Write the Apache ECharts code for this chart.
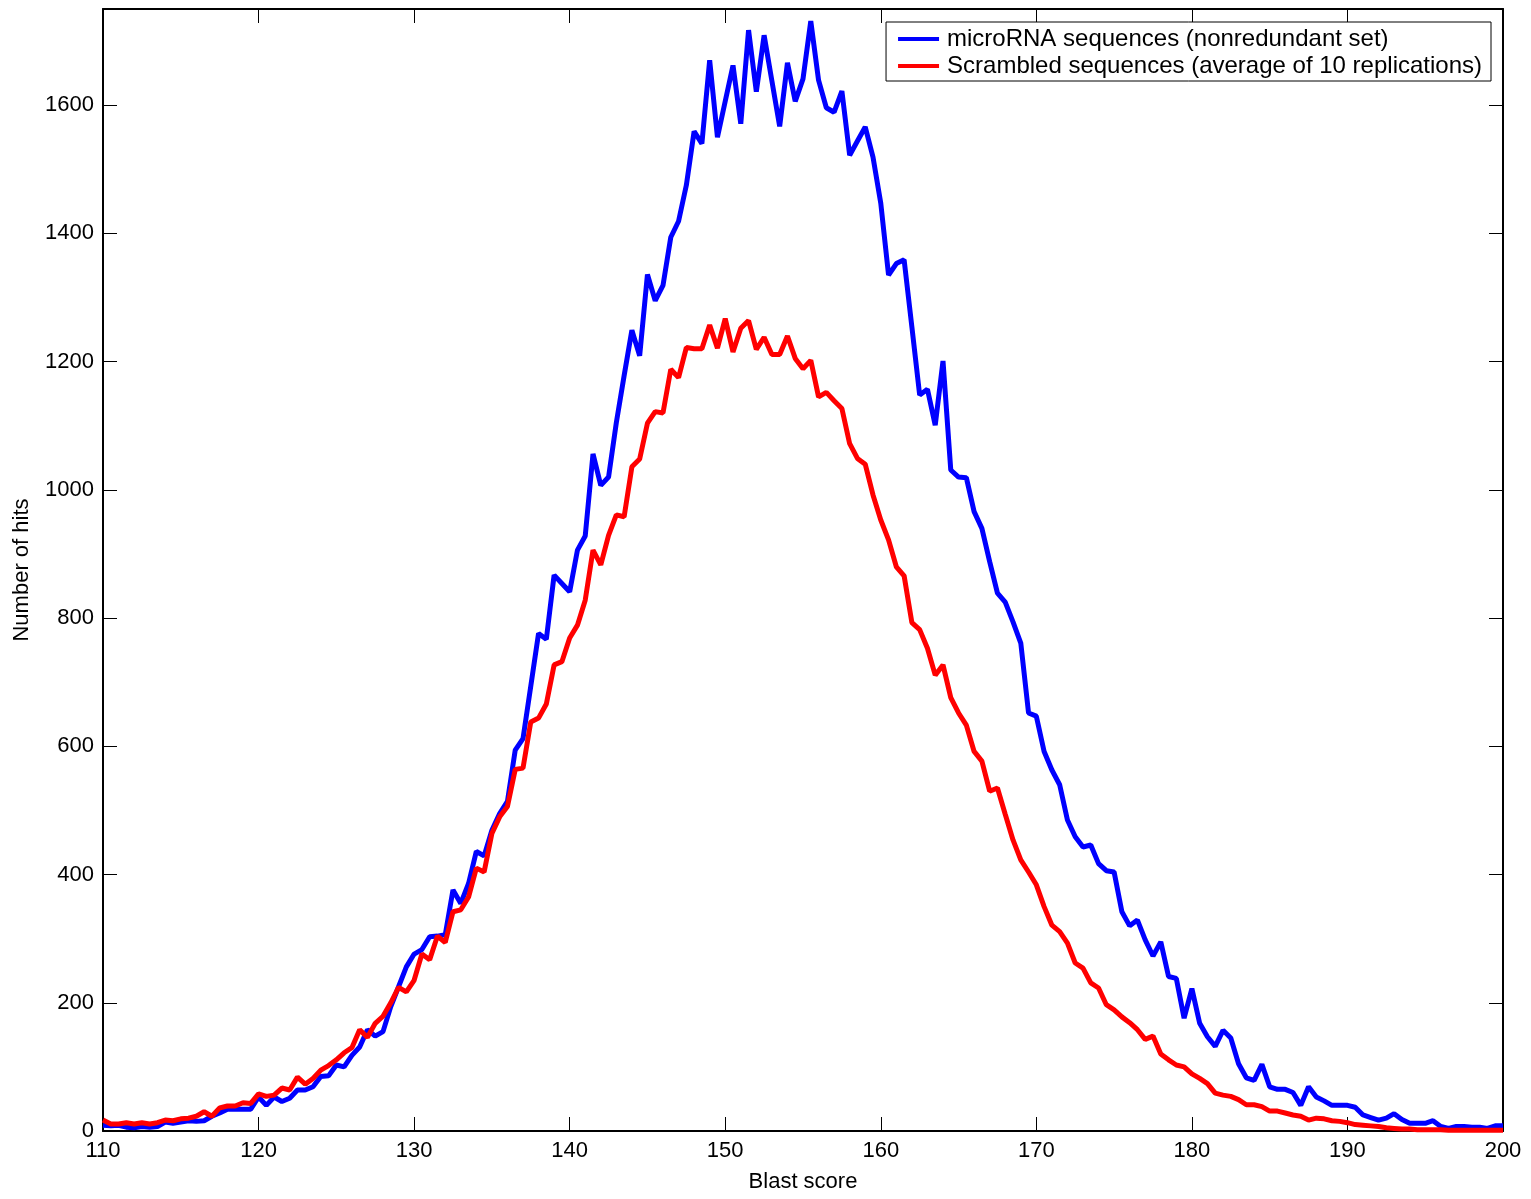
<!DOCTYPE html>
<html>
<head>
<meta charset="utf-8">
<script src="https://cdn.jsdelivr.net/npm/echarts@6/dist/echarts.min.js"></script>
<style>
html,body{margin:0;padding:0;background:#fff;}
#chart{width:1531px;height:1199px;}
</style>
</head>
<body>
<div id="chart"></div>
<script>
const scores = [
110,110.5,111,111.5,112,112.5,113,113.5,114,114.5,
115,115.5,116,116.5,117,117.5,118,118.5,119,119.5,
120,120.5,121,121.5,122,122.5,123,123.5,124,124.5,
125,125.5,126,126.5,127,127.5,128,128.5,129,129.5,
130,130.5,131,131.5,132,132.5,133,133.5,134,134.5,
135,135.5,136,136.5,137,137.5,138,138.5,139,139.5,
140,140.5,141,141.5,142,142.5,143,143.5,144,144.5,
145,145.5,146,146.5,147,147.5,148,148.5,149,149.5,
150,150.5,151,151.5,152,152.5,153,153.5,154,154.5,
155,155.5,156,156.5,157,157.5,158,158.5,159,159.5,
160,160.5,161,161.5,162,162.5,163,163.5,164,164.5,
165,165.5,166,166.5,167,167.5,168,168.5,169,169.5,
170,170.5,171,171.5,172,172.5,173,173.5,174,174.5,
175,175.5,176,176.5,177,177.5,178,178.5,179,179.5,
180,180.5,181,181.5,182,182.5,183,183.5,184,184.5,
185,185.5,186,186.5,187,187.5,188,188.5,189,189.5,
190,190.5,191,191.5,192,192.5,193,193.5,194,194.5,
195,195.5,196,196.5,197,197.5,198,198.5,199,199.5,
200];

const microRNA = [
9,8,9,6,5,7,6,7,14,12,
14,16,15,16,23,28,34,34,34,34,
53,40,53,46,51,64,64,69,85,86,
103,100,118,131,158,148,155,194,225,256,
276,283,303,304,306,376,355,386,436,429,
469,495,514,594,612,694,776,767,867,854,
841,906,928,1056,1007,1020,1105,1178,1249,1209,
1336,1295,1319,1394,1419,1475,1559,1540,1670,1550,
1606,1662,1571,1717,1621,1709,1638,1567,1666,1606,
1641,1731,1639,1596,1589,1622,1522,1544,1566,1519,
1447,1335,1353,1359,1254,1148,1157,1101,1201,1031,
1020,1019,966,940,888,839,825,794,761,652,
647,592,563,540,485,459,443,446,417,406,
404,342,320,329,298,273,295,241,238,176,
222,168,147,132,157,145,105,83,79,104,
69,65,65,60,40,69,53,47,40,40,
40,37,25,21,17,20,27,18,12,12,
12,16,7,4,7,7,6,6,4,8,
8];

const scrambled = [
17,11,11,13,11,13,11,13,17,16,
19,20,23,30,23,36,39,39,44,43,
58,54,56,67,64,84,73,82,95,102,
111,122,130,158,146,168,179,200,224,217,
235,276,267,304,294,342,345,365,410,404,
464,490,506,564,566,638,644,666,727,732,
769,789,828,906,883,929,961,958,1036,1048,
1104,1122,1120,1188,1175,1222,1220,1220,1257,1221,
1267,1215,1252,1264,1219,1238,1211,1211,1240,1205,
1189,1202,1145,1152,1139,1127,1072,1049,1040,992,
953,922,880,866,793,782,753,711,727,676,
652,633,592,577,530,535,494,454,423,404,
384,350,321,311,293,262,254,231,223,197,
189,178,169,158,143,148,120,111,103,100,
89,82,74,59,56,54,49,41,41,38,
31,31,28,25,23,17,20,19,16,15,
13,10,9,8,7,5,4,3,3,2,
2,2,2,1,1,1,1,1,1,1,
1];

const seriesNames = ['microRNA sequences (nonredundant set)', 'Scrambled sequences (average of 10 replications)'];
const xTicks = [110,120,130,140,150,160,170,180,190,200];
const yTicks = [0,200,400,600,800,1000,1200,1400,1600];

const FONT = '"Liberation Sans", Arial, Helvetica, sans-serif';
const chart = echarts.init(document.getElementById('chart'), null, {renderer: 'canvas'});

const axisLine = {show: true, onZero: false, lineStyle: {color: '#000', width: 2}};
const axisTick = {show: true, inside: true, length: 14, lineStyle: {color: '#000', width: 1}};

chart.setOption({
  animation: false,
  backgroundColor: '#fff',
  grid: {left: 103, right: 28, top: 9, bottom: 68, containLabel: false},
  legend: {
    orient: 'vertical',
    right: 40,
    top: 22,
    data: seriesNames,
    icon: 'rect',
    itemWidth: 41,
    itemHeight: 4,
    itemGap: 3,
    padding: [5, 9, 3, 12],
    borderColor: '#000',
    borderWidth: 1,
    borderRadius: 0,
    backgroundColor: '#fff',
    textStyle: {fontFamily: FONT, fontSize: 24, color: '#000', padding: [0, 0, 0, 3]}
  },
  xAxis: [
    {
      type: 'value', position: 'bottom', min: 110, max: 200, interval: 10,
      name: 'Blast score', nameLocation: 'middle', nameGap: 40,
      nameTextStyle: {fontFamily: FONT, fontSize: 22, color: '#000'},
      axisLine: axisLine, axisTick: axisTick,
      axisLabel: {fontFamily: FONT, fontSize: 22, color: '#000', margin: 9,
        formatter: v => xTicks.includes(v) ? String(v) : ''},
      splitLine: {show: false}
    },
    {
      type: 'value', position: 'top', min: 110, max: 200, interval: 10,
      axisLine: axisLine, axisTick: axisTick,
      axisLabel: {show: false}, splitLine: {show: false}
    }
  ],
  yAxis: [
    {
      type: 'value', position: 'left', min: 0, max: 1750, interval: 200,
      name: 'Number of hits', nameLocation: 'middle', nameGap: 70,
      nameTextStyle: {fontFamily: FONT, fontSize: 22, color: '#000'},
      axisLine: axisLine, axisTick: axisTick,
      axisLabel: {fontFamily: FONT, fontSize: 22, color: '#000', margin: 9, showMaxLabel: false,
        formatter: v => yTicks.includes(v) ? String(v) : ''},
      splitLine: {show: false}
    },
    {
      type: 'value', position: 'right', min: 0, max: 1750, interval: 200,
      axisLine: axisLine, axisTick: axisTick,
      axisLabel: {show: false}, splitLine: {show: false}
    }
  ],
  series: [
    {
      name: seriesNames[0], type: 'line', xAxisIndex: 0, yAxisIndex: 0,
      showSymbol: false, symbol: 'none',
      color: '#0000ff',
      lineStyle: {color: '#0000ff', width: 5},
      data: scores.map((s, i) => [s, microRNA[i]])
    },
    {
      name: seriesNames[1], type: 'line', xAxisIndex: 0, yAxisIndex: 0,
      showSymbol: false, symbol: 'none',
      color: '#ff0000',
      lineStyle: {color: '#ff0000', width: 5},
      data: scores.map((s, i) => [s, scrambled[i]])
    }
  ]
});
</script>
</body>
</html>
